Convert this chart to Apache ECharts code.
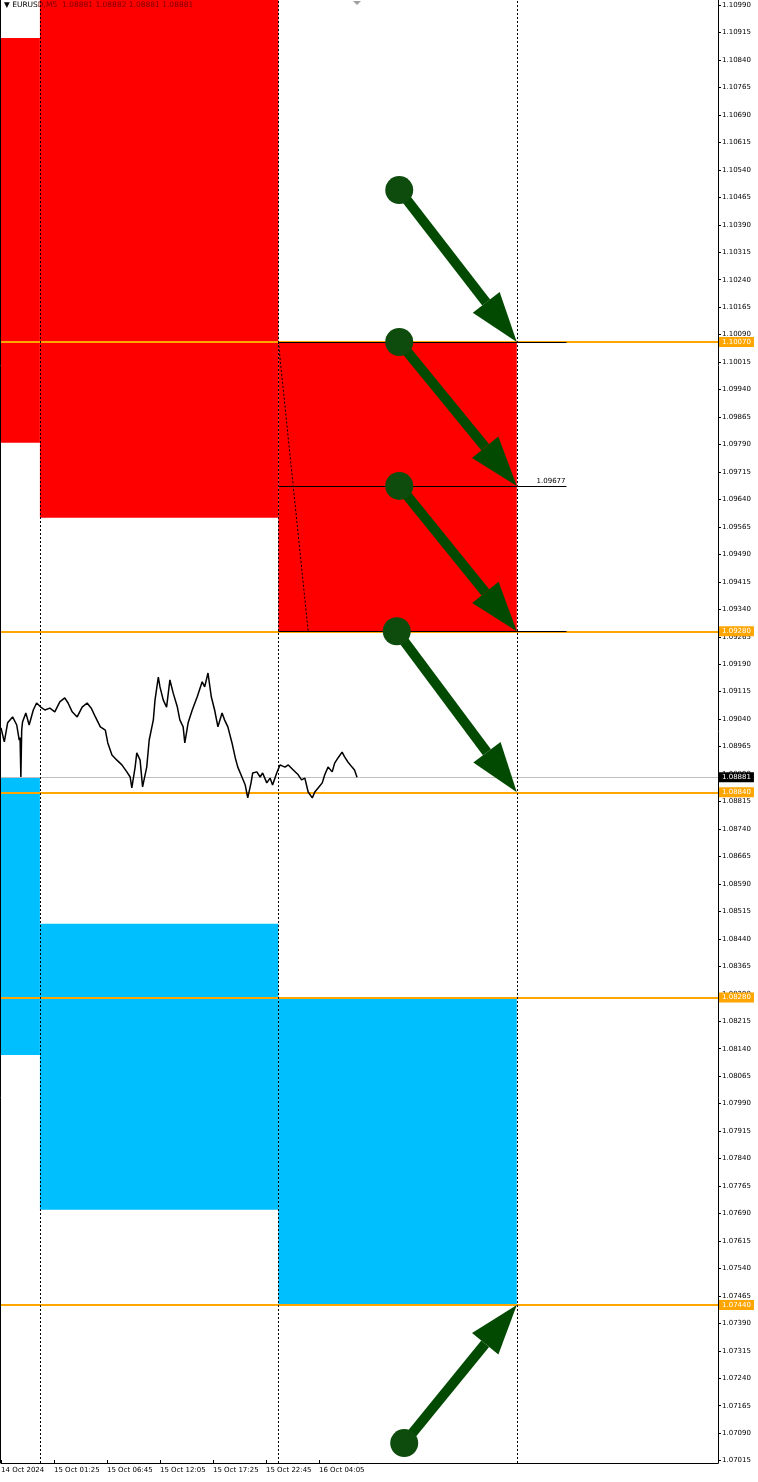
<!DOCTYPE html>
<html><head><meta charset="utf-8">
<script src="https://cdn.jsdelivr.net/npm/echarts@6/dist/echarts.min.js"></script>
<style>html,body{margin:0;padding:0;background:#fff}#c{width:758px;height:1482px}</style>
</head><body><div id="c"></div>
<script>
// ---- data ----
// x axis unit: M5 bar index, bar 0 = 14 Oct 2024 20:05
const timeLabels = ['14 Oct 2024','15 Oct 01:25','15 Oct 06:45','15 Oct 12:05','15 Oct 17:25','15 Oct 22:45','16 Oct 04:05'];
const labelBars = [0, 64, 128, 192, 256, 320, 384];
const dayStarts = [47, 335, 623];            // 15 Oct, 16 Oct, 17 Oct 00:00
const xMax = 866;
const yMin = 1.070085, yMax = 1.11004;
const yTickStart = 1.07015, yTickStep = 0.00075, yTickCount = 54;

const priceBars = [0,4,8,14,19,22,23,24,25,26,30,34,39,43,48,53,59,65,71,77,81,86,92,98,104,109,114,120,126,129,134,140,146,152,156,158,162,164,168,171,176,179,184,186,190,192,196,200,204,208,213,216,220,222,226,231,237,243,246,250,254,258,262,267,270,274,279,283,286,291,295,298,302,304,309,313,316,321,325,328,333,337,343,347,353,359,363,367,371,376,379,383,388,391,395,400,403,407,412,415,419,424,427,430];
const priceValues = [1.09016,1.08978,1.09030,1.09046,1.09024,1.08983,1.08990,1.08882,1.09010,1.09032,1.09057,1.09024,1.09065,1.09084,1.09073,1.09065,1.09070,1.09060,1.09087,1.09098,1.09084,1.09060,1.09046,1.09073,1.09084,1.09070,1.09046,1.09019,1.09010,1.08975,1.08942,1.08928,1.08915,1.08896,1.08882,1.08852,1.08909,1.08948,1.08928,1.08855,1.08909,1.08983,1.09038,1.09092,1.09155,1.09128,1.09092,1.09073,1.09147,1.09111,1.09073,1.09038,1.09019,1.08975,1.09030,1.09065,1.09101,1.09142,1.09128,1.09166,1.09101,1.09065,1.09019,1.09057,1.09038,1.09019,1.08975,1.08934,1.08909,1.08882,1.08860,1.08825,1.08866,1.08893,1.08896,1.08882,1.08893,1.08866,1.08879,1.08860,1.08893,1.08915,1.08909,1.08915,1.08901,1.08888,1.08874,1.08879,1.08841,1.08825,1.08841,1.08852,1.08866,1.08888,1.08909,1.08896,1.08920,1.08934,1.08950,1.08937,1.08923,1.08909,1.08901,1.08881];
const lastPrice = 1.08881;
const headerSymbol = 'EURUSD,M5';
const headerQuote = '1.08881 1.08882 1.08881 1.08881';

// boxes: [startBar, endBar, top, bottom]
const redBoxes  = [[-241, 47, 1.10900, 1.09795], [47, 335, 1.11360, 1.09590], [335, 623, 1.10070, 1.09280]];
const blueBoxes = [[-241, 47, 1.08880, 1.08123], [47, 335, 1.08481, 1.07700], [335, 623, 1.08280, 1.07440]];
const orangeLevels = [1.10070, 1.09280, 1.08840, 1.08280, 1.07440];
const segLevels = [1.10070, 1.09677, 1.09280];
const segStart = 335, segEnd = 683;
const segLabelLevel = 1.09677;
const diagLine = [[335, 1.10070], [371, 1.09280]];
// arrows: [circleBar, circlePrice, tipBar, tipPrice]
const arrows = [[481,1.10485,623,1.10070],[481,1.10070,623,1.09677],[481,1.09677,623,1.09280],[478,1.09280,623,1.08840],[487,1.07063,623,1.07440]];

// ---- chart ----
const FONT = 'DejaVu Sans';
const yTicks = [];
for (let i = 0; i < yTickCount; i++) yTicks.push(Math.round((yTickStart + i * yTickStep) * 1e5) / 1e5);

function renderBox(params, api) {
  const a = api.coord([api.value(0), api.value(2)]);
  const b = api.coord([api.value(1), api.value(3)]);
  return {type: 'rect', shape: {x: a[0], y: a[1], width: b[0] - a[0], height: b[1] - a[1]},
          style: {fill: api.visual('color')}};
}
const ARROW = '#024a02', CIRCLE = '#0e4c0e';
function renderArrow(params, api) {
  const p0 = api.coord([api.value(0), api.value(1)]);
  const p1 = api.coord([api.value(2), api.value(3)]);
  const dx = p1[0] - p0[0], dy = p1[1] - p0[1];
  const L = Math.hypot(dx, dy), ux = dx / L, uy = dy / L, nx = -uy, ny = ux;
  const H = 50, W = 17, S = 5;
  const bx = p1[0] - ux * H, by = p1[1] - uy * H;
  return {type: 'group', children: [
    {type: 'polygon', shape: {points: [[p0[0] + nx * S, p0[1] + ny * S], [bx + nx * S, by + ny * S], [bx - nx * S, by - ny * S], [p0[0] - nx * S, p0[1] - ny * S]]}, style: {fill: ARROW}},
    {type: 'polygon', shape: {points: [[p1[0], p1[1]], [bx + nx * W, by + ny * W], [bx - nx * W, by - ny * W]]}, style: {fill: ARROW}},
    {type: 'circle', shape: {cx: p0[0], cy: p0[1], r: 14}, style: {fill: CIRCLE}}
  ]};
}

const chart = echarts.init(document.getElementById('c'), null, {renderer: 'canvas'});
const option = {
  animation: false,
  backgroundColor: '#ffffff',
  grid: {left: 1, right: 40, top: 0, bottom: 19, containLabel: false, outerBoundsMode: 'none'},
  xAxis: {
    type: 'value', min: 0, max: xMax, interval: 64,
    axisLine: {show: true, onZero: false, lineStyle: {color: '#000', width: 1}},
    axisTick: {show: true, length: 3, inside: true, customValues: labelBars, lineStyle: {color: '#000'}},
    axisLabel: {show: true, customValues: labelBars, align: 'left', margin: 4, color: '#000', fontFamily: FONT, fontSize: 7,
      formatter: v => { const i = labelBars.indexOf(Math.round(v)); return i >= 0 ? timeLabels[i] : ''; }},
    splitLine: {show: false}
  },
  yAxis: {
    type: 'value', position: 'right', min: yMin, max: yMax, scale: true,
    axisLine: {show: true, onZero: false, lineStyle: {color: '#000', width: 1}},
    axisTick: {show: true, length: 3, customValues: yTicks, lineStyle: {color: '#000'}},
    axisLabel: {show: true, customValues: yTicks, margin: 4, color: '#000', fontFamily: FONT, fontSize: 7,
      formatter: v => v.toFixed(5)},
    splitLine: {show: false}
  },
  series: [
    {type: 'custom', name: 'red', renderItem: renderBox, clip: true, z: 1, silent: true,
     itemStyle: {color: '#ff0000'}, encode: {x: [0, 1], y: [2, 3]}, data: redBoxes},
    {type: 'custom', name: 'blue', renderItem: renderBox, clip: true, z: 1, silent: true,
     itemStyle: {color: '#00bfff'}, encode: {x: [0, 1], y: [2, 3]}, data: blueBoxes},
    {type: 'line', name: 'levels', data: [], z: 3, silent: true,
     markLine: {silent: true, symbol: 'none', animation: false, precision: 5,
       lineStyle: {color: '#ffa500', width: 2, type: 'solid'},
       label: {show: true, position: 'end', distance: 1, formatter: p => Number(p.value).toFixed(5),
         backgroundColor: '#ffa500', color: '#fff', padding: [2, 3, 1, 3], fontFamily: FONT, fontSize: 7},
       data: orangeLevels.map(v => ({yAxis: v}))}},
    {type: 'line', name: 'current', data: [], z: 3, silent: true,
     markLine: {silent: true, symbol: 'none', animation: false, precision: 5,
       lineStyle: {color: '#c0c0c0', width: 1, type: 'solid'},
       label: {show: true, position: 'end', distance: 1, formatter: p => Number(p.value).toFixed(5),
         backgroundColor: '#000', color: '#fff', padding: [2, 3, 1, 3], fontFamily: FONT, fontSize: 7},
       data: [{yAxis: lastPrice}]}},
    {type: 'line', name: 'segments', data: [], z: 4, silent: true,
     markLine: {silent: true, symbol: 'none', animation: false, precision: 5,
       lineStyle: {color: '#000', width: 1, type: 'solid'},
       label: {show: false},
       data: segLevels.map(v => [
         {coord: [segStart, v], label: v === segLabelLevel ? {show: true, position: 'insideEndTop', distance: 1, formatter: v.toFixed(5), color: '#000', fontFamily: FONT, fontSize: 7} : {show: false}},
         {coord: [segEnd, v]}])}},
    {type: 'line', name: 'diag', data: diagLine, z: 4, silent: true, symbol: 'none',
     lineStyle: {color: '#000', width: 1, type: [2, 2]}},
    {type: 'line', name: 'days', data: [], z: 5, silent: true,
     markLine: {silent: true, symbol: 'none', animation: false,
       lineStyle: {color: '#000', width: 1, type: [2, 2]}, label: {show: false},
       data: dayStarts.map(v => ({xAxis: v}))}},
    {type: 'line', name: 'price', data: priceBars.map((b, i) => [b, priceValues[i]]), z: 6, silent: true,
     symbol: 'none', lineStyle: {color: '#000', width: 1.5}},
    {type: 'custom', name: 'arrows', renderItem: renderArrow, clip: false, z: 8, silent: true,
     encode: {x: [0, 2], y: [1, 3]}, data: arrows}
  ]
};
chart.setOption(option);

// header text, left frame line and chart-shift marker
const lastBar = priceBars[priceBars.length - 1];
const shiftPx = chart.convertToPixel({gridIndex: 0}, [lastBar, yMax]);
const topLeft = chart.convertToPixel({gridIndex: 0}, [0, yMax]);
const botLeft = chart.convertToPixel({gridIndex: 0}, [0, yMin]);
chart.setOption({graphic: [
  {type: 'line', z: 20, shape: {x1: topLeft[0] - 0.5, y1: topLeft[1], x2: botLeft[0] - 0.5, y2: botLeft[1]}, style: {stroke: '#000', lineWidth: 1}},
  {type: 'text', left: 4, top: 1, z: 20, style: {
     text: '{a|▼ EURUS}{b|' + headerSymbol.slice(5) + '  ' + headerQuote + '}',
     rich: {a: {fill: '#000', fontFamily: FONT, fontSize: 7.5}, b: {fill: '#7a0000', fontFamily: FONT, fontSize: 7.5}}}},
  {type: 'polygon', z: 20, shape: {points: [[shiftPx[0] - 4, shiftPx[1] + 1], [shiftPx[0] + 4, shiftPx[1] + 1], [shiftPx[0], shiftPx[1] + 5]]},
   style: {fill: '#a0a0a0'}}
]});
</script>
</body></html>
